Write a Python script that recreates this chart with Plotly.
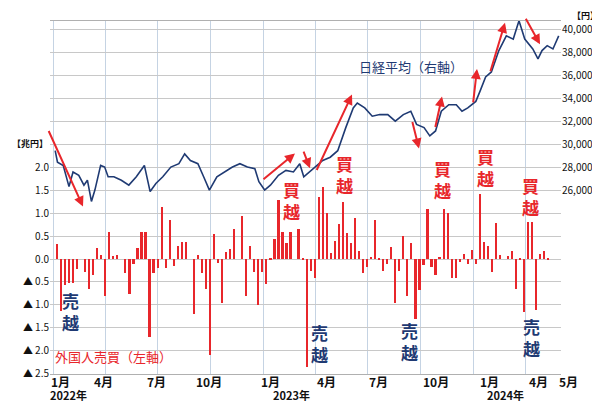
import plotly.graph_objects as go
import pandas as pd

# Weekly foreign investor net buying (trillion yen), weeks ending Fridays from 2022-01-07
flow = [0.34, -1.13, -0.56, -0.52, -0.52,
        -0.22, 0.0, -0.28, -0.65, -0.35,
        0.25, 0.1, -0.8, 0.6,
        0.08, 0.1, 0.0, -0.3, -0.75,
        -0.1, 0.25, 0.6, 0.6,
        -1.7, -0.3, -0.2, 1.15,
        -0.2, 0.85, -0.15, 0.3, 0.38, 0.38, 0.0,
        -1.2, 0.1, -0.3, -0.65, -2.1,
        0.55, -0.08, -0.95, 0.15, 0.22, 0.65, 0.0, 0.95, -0.8, 0.3, -0.28, -1.0, -0.28, -0.55,
        0.02, 0.45, 1.3, 0.6, 0.35, 0.6, 0.0, 0.67, 0.01,
        -2.35, -0.25, -0.4, 1.35, 1.58, 1.0, 0.13, 0.4, 0.78, 1.25, 0.57, 0.35, 0.9, 0.18,
        -0.3, -0.18, 0.05, 0.85, 0.02, -0.25, -0.1, 0.27, -0.95, -0.25, 0.5, -0.8, 0.35,
        -1.3, -0.68, -0.12, 1.1, -0.18, -0.35, 0.05, 1.1, 1.0, -0.42, -0.42, -0.06, 0.11,
        -0.1, 0.2, -0.1, 1.42, 0.38, 0.3, -0.28, 0.8, 0.1, 0.0, 0.06, 0.18, -0.65, 0.03,
        -1.15, 0.82, 0.82, -1.1, 0.12, 0.17, 0.01]
flow_dates = pd.date_range("2022-01-07", periods=len(flow), freq="7D")

nk_dates = ["2022-01-04","2022-01-08","2022-01-18","2022-01-28","2022-02-04","2022-02-14","2022-02-23",
            "2022-03-01","2022-03-08","2022-03-14","2022-03-24","2022-03-31","2022-04-06","2022-04-16",
            "2022-04-29","2022-05-12","2022-05-25","2022-06-08","2022-06-18","2022-06-28","2022-07-10",
            "2022-07-24","2022-08-07","2022-08-17","2022-08-27","2022-09-09","2022-09-19","2022-09-29",
            "2022-10-12","2022-10-25","2022-11-08","2022-11-21","2022-12-04","2022-12-17","2022-12-24",
            "2023-01-03","2023-01-13","2023-01-27","2023-02-09","2023-02-22","2023-03-05","2023-03-12",
            "2023-03-25","2023-04-01","2023-04-14","2023-04-27","2023-05-10","2023-05-24","2023-06-06",
            "2023-06-13","2023-06-26","2023-07-09","2023-07-22","2023-08-05","2023-08-18","2023-09-01",
            "2023-09-14","2023-09-24","2023-10-07","2023-10-17","2023-10-27","2023-11-06","2023-11-19",
            "2023-12-02","2023-12-12","2023-12-22","2024-01-05","2024-01-12","2024-01-22","2024-02-01",
            "2024-02-14","2024-02-27","2024-03-10","2024-03-20","2024-03-30","2024-04-13","2024-04-22",
            "2024-04-29","2024-05-08","2024-05-18","2024-05-28"]
nikkei = [29460, 28460, 28170, 26320, 27600, 27310, 26450, 26880, 25030, 26020, 28170, 28030, 27180,
          27180, 26880, 26450, 27180, 28170, 25890, 26600, 27180, 28030, 28320, 29180, 28600, 28320,
          27180, 26020, 27180, 27600, 28030, 28320, 28030, 27890, 26750, 26020, 26450, 27310, 27740,
          27600, 28320, 27180, 27740, 28030, 28600, 28890, 29460, 31470, 33190, 33620, 33190, 32470,
          32610, 32610, 32040, 32610, 32900, 31750, 31470, 30750, 31180, 32900, 33470, 33470, 32900,
          33190, 33760, 34610, 35900, 36330, 38200, 39480, 39200, 40800, 39200, 38340, 37480, 38200,
          38630, 38340, 39480]

left_ticks = [-2.5, -2.0, -1.5, -1.0, -0.5, 0.0, 0.5, 1.0, 1.5, 2.0, 2.5, 3.0, 3.5, 4.0, 4.5, 5.0]
left_text = ["▲ 2.5", "▲ 2.0", "▲ 1.5", "▲ 1.0", "▲ 0.5", "0.0", "0.5", "1.0", "1.5", "2.0", "",
             "", "", "", "", ""]
right_ticks = [26000, 28000, 30000, 32000, 34000, 36000, 38000, 40000]
right_text = ["26,000", "28,000", "30,000", "32,000", "34,000", "36,000", "38,000", "40,000"]
month_labels = ["1月", "4月", "7月", "10月", "1月", "4月", "7月", "10月", "1月", "4月", "5月"]
month_px = [52, 95, 148, 201, 262, 318, 370, 428, 481, 530, 560]
year_labels = ["2022年", "2023年", "2024年"]
year_px = [60, 283, 497]
grid_dates = ["2022-01-01", "2022-04-01", "2022-07-01", "2022-10-01", "2023-01-01", "2023-04-01",
              "2023-07-01", "2023-10-01", "2024-01-01", "2024-04-01"]

W, H = 600, 404
RED = "#e8262b"
NAVY = "#1f3a73"
FONT = "Noto Sans CJK JP"

fig = go.Figure()
fig.add_trace(go.Bar(x=flow_dates, y=flow, marker_color=RED, marker_line_width=0,
                     width=7 * 24 * 3600 * 1000 * 0.55, yaxis="y"))
fig.add_trace(go.Scatter(x=nk_dates, y=nikkei, mode="lines", line=dict(color=NAVY, width=1.6),
                         yaxis="y2"))

ann = []
for t, px in zip(month_labels, month_px):
    ann.append(dict(text="<b>" + t + "</b>", x=px / W, y=1 - 380 / H, xref="paper", yref="paper", showarrow=False,
                    font=dict(size=12, color="#111", family=FONT), xanchor="center", yanchor="middle"))
for t, px in zip(year_labels, year_px):
    ann.append(dict(text="<b>" + t + "</b>", x=px / W, y=0, xref="paper", yref="paper", showarrow=False,
                    font=dict(size=11, color="#111", family=FONT), xanchor="center", yanchor="bottom"))

def tag(text, px, py, color):
    ann.append(dict(text=text, x=px / W, y=1 - py / H, xref="paper", yref="paper", showarrow=False,
                    font=dict(size=17, color=color, family=FONT), xanchor="center", yanchor="middle"))

for px, py in [(62, 309), (311, 341), (401, 339), (523, 335)]:
    tag("<b>売<br>越</b>", px, py, NAVY)
for px, py in [(283, 196), (336, 169), (434, 175), (477, 162), (522, 192)]:
    tag("<b>買<br>越</b>", px, py, RED)

ann.append(dict(text="外国人売買（左軸）", x=45 / W, y=1 - 355 / H, xref="paper", yref="paper", showarrow=False,
                font=dict(size=13, color=RED, family=FONT), xanchor="left", yanchor="middle"))
ann.append(dict(text="日経平均（右軸）", x=403 / W, y=1 - 60 / H, xref="paper", yref="paper", showarrow=False,
                font=dict(size=13, color=NAVY, family=FONT), xanchor="center", yanchor="middle"))
ann.append(dict(text="<b>【兆円】</b>", x=2 / W, y=1 - 138 / H, xref="paper", yref="paper", showarrow=False,
                font=dict(size=9, color="#111", family=FONT), xanchor="left", yanchor="middle"))
ann.append(dict(text="<b>【円】</b>", x=562 / W, y=1 - 8 / H, xref="paper", yref="paper", showarrow=False,
                font=dict(size=9, color="#111", family=FONT), xanchor="left", yanchor="middle"))

arrows = [((40, 125), (75, 202)), ((254, 175), (287, 148)), ((295, 145), (302, 163)),
          ((308, 165), (344, 88)), ((404, 115), (411, 143)), ((427, 122), (434, 90)),
          ((465, 97), (469, 62)), ((482, 65), (497, 15)), ((517, 10), (532, 37))]
for (x0, y0), (x1, y1) in arrows:
    ann.append(dict(x=x1 / W, y=1 - y1 / H, xref="paper", yref="paper", ax=x0 - x1, ay=y0 - y1,
                    axref="pixel", ayref="pixel", showarrow=True, arrowhead=2, arrowsize=1,
                    arrowwidth=2, arrowcolor=RED, text=""))

fig.update_layout(
    width=W, height=H, margin=dict(l=0, r=0, t=0, b=0), showlegend=False,
    paper_bgcolor="white", plot_bgcolor="white", bargap=0,
    font=dict(family=FONT, color="#111"),
    xaxis=dict(domain=[42 / W, 553 / W], type="date", range=["2021-12-26", "2024-06-01"],
               tickvals=grid_dates, showticklabels=False, showgrid=True, gridcolor="#c5d3e3",
               gridwidth=1, showline=True, linecolor="#b0b0b0", mirror=True, zeroline=False),
    yaxis=dict(domain=[1 - 372 / H, 1 - 13 / H], range=[-2.5, 5.2], tickvals=left_ticks,
               ticktext=left_text, showgrid=True, gridcolor="#c8c8c8", zeroline=False,
               tickfont=dict(size=10, color="#111"), ticks="", showline=False),
    yaxis2=dict(overlaying="y", side="right", range=[10000, 40800], tickvals=right_ticks,
                ticktext=right_text, showgrid=False, zeroline=False,
                tickfont=dict(size=10, color="#111"), ticks="", ticklen=0),
    annotations=ann,
)
fig.write_html("out.html")
